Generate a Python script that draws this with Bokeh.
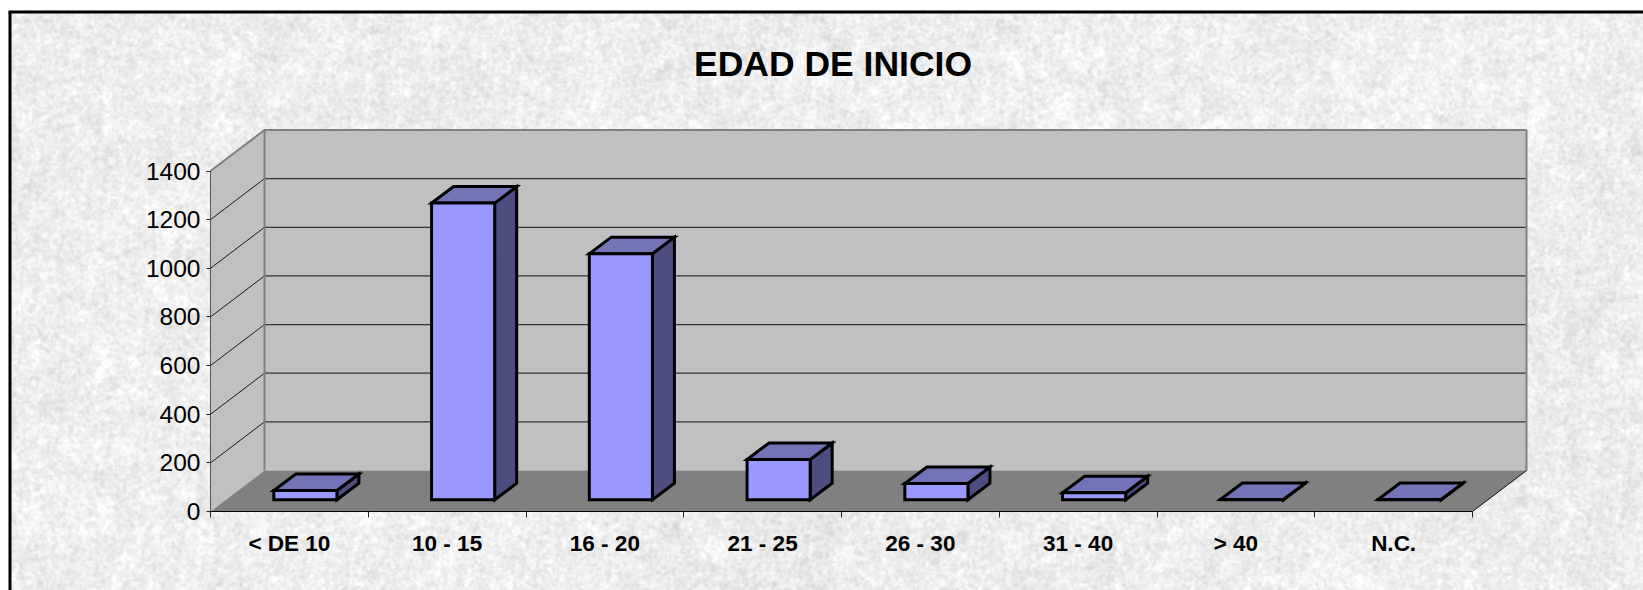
import numpy as np
from bokeh.plotting import figure
from bokeh.models import LinearAxis, FixedTicker, Range1d
from bokeh.core.properties import value
from bokeh.embed import file_html
from bokeh.resources import INLINE

# ---- chart data ----
title_text = "EDAD DE INICIO"
categories = ["< DE 10", "10 - 15", "16 - 20", "21 - 25", "26 - 30", "31 - 40", "> 40", "N.C."]
counts = [38, 1220, 1012, 166, 67, 29, 1, 1]
y_ticks = [0, 200, 400, 600, 800, 1000, 1200, 1400]

# ---- layout (page pixels) ----
W, H = 1643, 590
PAGE_X0, PAGE_Y0 = 0, 0
AX_L, AX_R, AX_B, AX_T = 210.0, 1472.0, 511.0, 170.5
n = len(categories)
PX_X = (AX_R - AX_L) / n            # px per category
PX_Y = (AX_B - AX_T) / 1400.0       # px per count

def dx(px): return px / PX_X
def dy(px): return px / PX_Y
def X(px): return (px - AX_L) / PX_X
def Y(py): return (AX_B - py) / PX_Y

DEPTH_X, DEPTH_Y = dx(54), dy(41)
BAR_W = 0.4
BAR_OX, BAR_OY = dx(16), dy(11.7)
BAR_DX, BAR_DY = dx(22), dy(16.5)
YMAX = y_ticks[-1]

p = figure(width=W, height=H, output_backend="svg", toolbar_location=None,
           x_range=Range1d(X(PAGE_X0), X(PAGE_X0 + W)),
           y_range=Range1d(Y(PAGE_Y0 + H), Y(PAGE_Y0)),
           x_axis_type=None, y_axis_type=None,
           min_border=0, min_border_left=0, min_border_right=0,
           min_border_top=0, min_border_bottom=0,
           outline_line_color=None, background_fill_color="white",
           border_fill_color="white")
p.grid.visible = False

# ---- paper texture (decoration only, a deterministic hash pattern) ----
def hash_noise(h, w, seed):
    yy, xx = np.mgrid[0:h, 0:w]
    v = np.sin(xx * 12.9898 + yy * 78.233 + seed) * 43758.5453
    return v - np.floor(v)

def blur(a, r):
    out = a.copy()
    for axis in (0, 1):
        acc = np.zeros_like(out)
        for s in range(-r, r + 1):
            acc += np.roll(out, s, axis=axis)
        out = acc / (2 * r + 1)
    return out

def norm(a):
    return (a - a.mean()) / a.std()

tex_x0, tex_y0 = 8, 10
tex_w, tex_h = W - tex_x0, H - tex_y0
fine = norm(blur(hash_noise(tex_h, tex_w, 1.0), 1))
mid = norm(blur(hash_noise(tex_h, tex_w, 2.0), 2))
coarse = norm(blur(hash_noise(tex_h, tex_w, 3.0), 8))
broad = norm(blur(hash_noise(tex_h, tex_w, 4.0), 22))
gray = np.clip(239 + 5 * fine + 4 * mid + 3 * coarse + 2 * broad, 200, 255).astype(np.uint32)
img = (255 << 24) | (gray << 16) | (gray << 8) | gray
p.image_rgba(image=[img.astype(np.uint32)], x=X(tex_x0), y=Y(H), dw=dx(tex_w), dh=dy(tex_h))

# page frame (left and top edges are visible, the others run off the page)
p.line([X(9.5), X(9.5)], [Y(H), Y(11.5)], line_color="black", line_width=3)
p.line([X(8), X(W)], [Y(11.5), Y(11.5)], line_color="black", line_width=3)

# ---- walls and floor ----
p.patch([0, 0, DEPTH_X, DEPTH_X], [0, YMAX, YMAX + DEPTH_Y, DEPTH_Y],
        fill_color="#C0C0C0", line_color=None)
p.patch([DEPTH_X, n + DEPTH_X, n + DEPTH_X, DEPTH_X],
        [DEPTH_Y, DEPTH_Y, YMAX + DEPTH_Y, YMAX + DEPTH_Y],
        fill_color="#C0C0C0", line_color=None)
p.patch([0, n, n + DEPTH_X, DEPTH_X], [0, 0, DEPTH_Y, DEPTH_Y],
        fill_color="#808080", line_color=None)

grid_vals = y_ticks[1:-1]
p.segment([0] * len(grid_vals), grid_vals, [DEPTH_X] * len(grid_vals),
          [v + DEPTH_Y for v in grid_vals], line_color="#1a1a1a", line_width=1)
p.segment([DEPTH_X] * len(grid_vals), [v + DEPTH_Y for v in grid_vals],
          [n + DEPTH_X] * len(grid_vals), [v + DEPTH_Y for v in grid_vals],
          line_color="#333333", line_width=1.2)
# wall edges
p.line([0, DEPTH_X, n + DEPTH_X, n + DEPTH_X], [YMAX, YMAX + DEPTH_Y, YMAX + DEPTH_Y, DEPTH_Y],
       line_color="#808080", line_width=2)
p.line([DEPTH_X, DEPTH_X], [DEPTH_Y, YMAX + DEPTH_Y], line_color="#808080", line_width=2)
p.line([n, n + DEPTH_X], [0, DEPTH_Y], line_color="#111111", line_width=1)
# axis lines (the fixed-location axes below draw only ticks and labels)
p.line([0, 0], [0, YMAX], line_color="#555555", line_width=1)
p.line([0, n], [0, 0], line_color="black", line_width=1.2)

# ---- 3-D bars ----
lefts = [i + 0.5 - BAR_W / 2 + BAR_OX for i in range(n)]
rights = [l + BAR_W for l in lefts]
base = BAR_OY
tops_xs, tops_ys, side_xs, side_ys = [], [], [], []
for l, r, c in zip(lefts, rights, counts):
    t = base + c
    tops_xs.append([l, r, r + BAR_DX, l + BAR_DX])
    tops_ys.append([t, t, t + BAR_DY, t + BAR_DY])
    side_xs.append([r, r + BAR_DX, r + BAR_DX, r])
    side_ys.append([base, base + BAR_DY, t + BAR_DY, t])

bar_line = dict(line_color="black", line_width=3, line_join="miter")
p.patches(side_xs, side_ys, fill_color="#4D4D80", **bar_line)
p.patches(tops_xs, tops_ys, fill_color="#7373B8", **bar_line)
p.quad(left=lefts, right=rights, bottom=[base] * n, top=[base + c for c in counts],
       fill_color="#9999FF", **bar_line)

# ---- axes ----
yax = LinearAxis(fixed_location=0, ticker=FixedTicker(ticks=y_ticks))
yax.axis_line_color = None
yax.major_tick_line_color = "#222222"
yax.major_tick_in = 0
yax.major_tick_out = 4
yax.minor_tick_line_color = None
yax.major_label_standoff = 6
yax.major_label_text_font = "Liberation Sans"
yax.major_label_text_font_size = "24.5px"
yax.major_label_text_color = "black"
p.add_layout(yax, "left")

xax = LinearAxis(fixed_location=0, ticker=FixedTicker(ticks=list(range(n + 1))),
                 major_label_overrides={i: "" for i in range(n + 1)})
xax.axis_line_color = None
xax.major_tick_line_color = "#222222"
xax.major_tick_in = 0
xax.major_tick_out = 6
xax.minor_tick_line_color = None
p.add_layout(xax, "below")

centers = [i + 0.5 for i in range(n)]
lab = LinearAxis(fixed_location=0, ticker=FixedTicker(ticks=centers),
                 major_label_overrides={c: s for c, s in zip(centers, categories)})
lab.axis_line_color = None
lab.major_tick_line_color = None
lab.minor_tick_line_color = None
lab.major_tick_in = 0
lab.major_tick_out = 0
lab.major_label_standoff = 19
lab.major_label_text_font = "Liberation Sans"
lab.major_label_text_font_style = "bold"
lab.major_label_text_font_size = "22.5px"
lab.major_label_text_color = "black"
p.add_layout(lab, "below")

# ---- title ----
p.text(x=[X(832.5)], y=[Y(63)], text=[title_text], text_font=value("Liberation Sans"),
       text_font_style="bold", text_font_size="35.5px", text_color="black",
       text_align="center", text_baseline="middle")

open("out.html", "w").write(file_html(p, INLINE))
